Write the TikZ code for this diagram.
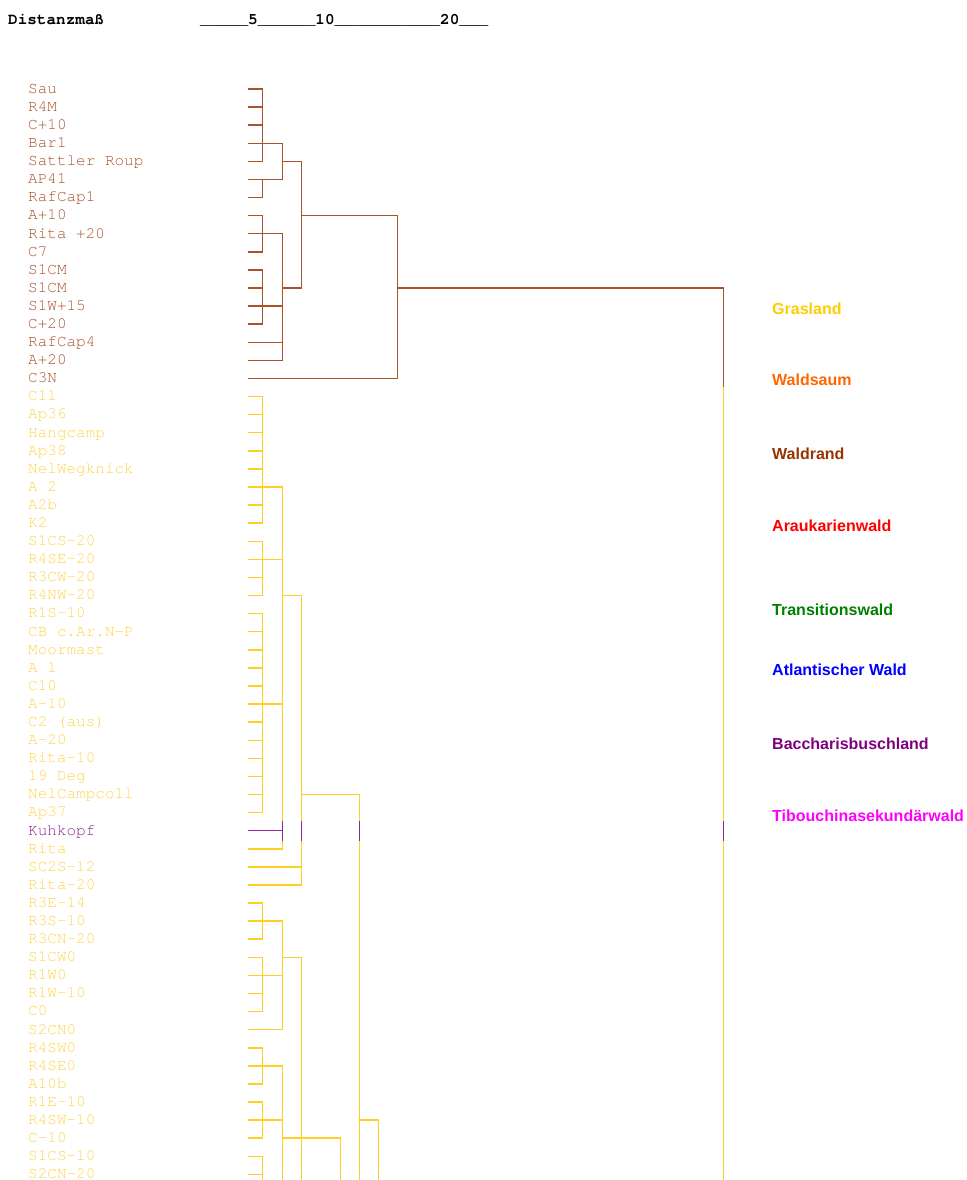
\documentclass[tikz,border=0pt]{standalone}
\usepackage{fontspec}
\newfontfamily\legendfont{Liberation Sans}
\newfontfamily\cursorfont{texgyrecursor-regular.otf}[BoldFont=texgyrecursor-bold.otf]
\definecolor{clbrown}{RGB}{170,82,42}
\definecolor{clgold}{RGB}{255,208,36}
\definecolor{clgoldtext}{RGB}{255,212,76}
\definecolor{clpurple}{RGB}{142,40,150}
\definecolor{lgGras}{RGB}{255,204,0}
\definecolor{lgSaum}{RGB}{255,102,0}
\definecolor{lgRand}{RGB}{153,51,0}
\definecolor{lgArau}{RGB}{255,0,0}
\definecolor{lgTrans}{RGB}{0,128,0}
\definecolor{lgAtl}{RGB}{0,0,255}
\definecolor{lgBacc}{RGB}{128,0,128}
\definecolor{lgTib}{RGB}{255,0,255}
\newcommand\leaffont{\fontsize{16}{18}\cursorfont}
\newcommand\headfont{\fontsize{16}{18}\cursorfont\bfseries}
\newcommand\keyfont{\fontsize{16}{18}\legendfont\bfseries}
\begin{document}
\begin{tikzpicture}[x=1pt,y=-18.09pt,
  brn/.style={draw=clbrown,line width=1.5pt,line cap=rect},
  gld/.style={draw=clgold,line width=1.5pt,line cap=rect},
  prp/.style={draw=clpurple,line width=1.5pt,line cap=rect},
  leaf/.style={anchor=base west,inner sep=0pt,yshift=-4.3pt,font=\leaffont},
  key/.style={anchor=west,inner sep=0pt,font=\keyfont}]
\useasboundingbox (0,-3.9199) rectangle (966,61.309);
\node[anchor=base west,inner sep=0pt,font=\headfont] (title) at (8,-2.593) {Distanzmaß};
\node[anchor=base west,inner sep=0pt,font=\headfont] (scale) at (200,-2.593) {\_\_\_\_\_5\_\_\_\_\_\_10\_\_\_\_\_\_\_\_\_\_\_20\_\_\_};
\node[leaf,clbrown] (leaf01) at (28,1) {Sau};
\node[leaf,clbrown] (leaf02) at (28,2) {R4M};
\node[leaf,clbrown] (leaf03) at (28,3) {C+10};
\node[leaf,clbrown] (leaf04) at (28,4) {Bar1};
\node[leaf,clbrown] (leaf05) at (28,5) {Sattler Roup};
\node[leaf,clbrown] (leaf06) at (28,6) {AP41};
\node[leaf,clbrown] (leaf07) at (28,7) {RafCap1};
\node[leaf,clbrown] (leaf08) at (28,8) {A+10};
\node[leaf,clbrown] (leaf09) at (28,9) {Rita +20};
\node[leaf,clbrown] (leaf10) at (28,10) {C7};
\node[leaf,clbrown] (leaf11) at (28,11) {S1CM};
\node[leaf,clbrown] (leaf12) at (28,12) {S1CM};
\node[leaf,clbrown] (leaf13) at (28,13) {S1W+15};
\node[leaf,clbrown] (leaf14) at (28,14) {C+20};
\node[leaf,clbrown] (leaf15) at (28,15) {RafCap4};
\node[leaf,clbrown] (leaf16) at (28,16) {A+20};
\node[leaf,clbrown] (leaf17) at (28,17) {C3N};
\node[leaf,clgoldtext] (leaf18) at (28,18) {C11};
\node[leaf,clgoldtext] (leaf19) at (28,19) {Ap36};
\node[leaf,clgoldtext] (leaf20) at (28,20) {Hangcamp};
\node[leaf,clgoldtext] (leaf21) at (28,21) {Ap38};
\node[leaf,clgoldtext] (leaf22) at (28,22) {NelWegknick};
\node[leaf,clgoldtext] (leaf23) at (28,23) {A 2};
\node[leaf,clgoldtext] (leaf24) at (28,24) {A2b};
\node[leaf,clgoldtext] (leaf25) at (28,25) {K2};
\node[leaf,clgoldtext] (leaf26) at (28,26) {S1CS-20};
\node[leaf,clgoldtext] (leaf27) at (28,27) {R4SE-20};
\node[leaf,clgoldtext] (leaf28) at (28,28) {R3CW-20};
\node[leaf,clgoldtext] (leaf29) at (28,29) {R4NW-20};
\node[leaf,clgoldtext] (leaf30) at (28,30) {R1S-10};
\node[leaf,clgoldtext] (leaf31) at (28,31) {CB c.Ar.N-P};
\node[leaf,clgoldtext] (leaf32) at (28,32) {Moormast};
\node[leaf,clgoldtext] (leaf33) at (28,33) {A 1};
\node[leaf,clgoldtext] (leaf34) at (28,34) {C10};
\node[leaf,clgoldtext] (leaf35) at (28,35) {A-10};
\node[leaf,clgoldtext] (leaf36) at (28,36) {C2 (aus)};
\node[leaf,clgoldtext] (leaf37) at (28,37) {A-20};
\node[leaf,clgoldtext] (leaf38) at (28,38) {Rita-10};
\node[leaf,clgoldtext] (leaf39) at (28,39) {19 Deg};
\node[leaf,clgoldtext] (leaf40) at (28,40) {NelCampcoll};
\node[leaf,clgoldtext] (leaf41) at (28,41) {Ap37};
\node[leaf,clpurple] (leaf42) at (28,42) {Kuhkopf};
\node[leaf,clgoldtext] (leaf43) at (28,43) {Rita};
\node[leaf,clgoldtext] (leaf44) at (28,44) {SC2S-12};
\node[leaf,clgoldtext] (leaf45) at (28,45) {Rita-20};
\node[leaf,clgoldtext] (leaf46) at (28,46) {R3E-14};
\node[leaf,clgoldtext] (leaf47) at (28,47) {R3S-10};
\node[leaf,clgoldtext] (leaf48) at (28,48) {R3CN-20};
\node[leaf,clgoldtext] (leaf49) at (28,49) {S1CW0};
\node[leaf,clgoldtext] (leaf50) at (28,50) {R1W0};
\node[leaf,clgoldtext] (leaf51) at (28,51) {R1W-10};
\node[leaf,clgoldtext] (leaf52) at (28,52) {C0};
\node[leaf,clgoldtext] (leaf53) at (28,53) {S2CN0};
\node[leaf,clgoldtext] (leaf54) at (28,54) {R4SW0};
\node[leaf,clgoldtext] (leaf55) at (28,55) {R4SE0};
\node[leaf,clgoldtext] (leaf56) at (28,56) {A10b};
\node[leaf,clgoldtext] (leaf57) at (28,57) {R1E-10};
\node[leaf,clgoldtext] (leaf58) at (28,58) {R4SW-10};
\node[leaf,clgoldtext] (leaf59) at (28,59) {C-10};
\node[leaf,clgoldtext] (leaf60) at (28,60) {S1CS-10};
\node[leaf,clgoldtext] (leaf61) at (28,61) {S2CN-20};
\draw[brn] (249,1) -- (262.5,1) (249,2) -- (262.5,2) (249,3) -- (262.5,3) (249,4) -- (282.5,4) (249,5) -- (262.5,5) (262.5,1) -- (262.5,5);
\draw[brn] (249,6) -- (282.5,6) (249,7) -- (262.5,7) (262.5,6) -- (262.5,7);
\draw[brn] (282.5,4) -- (282.5,6) (282.5,5) -- (301.5,5);
\draw[brn] (249,8) -- (262.5,8) (249,9) -- (282.5,9) (249,10) -- (262.5,10) (262.5,8) -- (262.5,10);
\draw[brn] (249,11) -- (262.5,11) (249,12) -- (262.5,12) (249,13) -- (282.5,13) (249,14) -- (262.5,14) (262.5,11) -- (262.5,14);
\draw[brn] (249,15) -- (282.5,15) (249,16) -- (282.5,16) (282.5,9) -- (282.5,16) (282.5,12) -- (301.5,12);
\draw[brn] (301.5,5) -- (301.5,12) (301.5,8) -- (397.5,8);
\draw[brn] (249,17) -- (397.5,17) (397.5,8) -- (397.5,17) (397.5,12) -- (723.5,12) -- (723.5,17.5);
\draw[gld] (249,18) -- (262.5,18) (249,19) -- (262.5,19) (249,20) -- (262.5,20) (249,21) -- (262.5,21) (249,22) -- (262.5,22) (249,23) -- (282.5,23) (249,24) -- (262.5,24) (249,25) -- (262.5,25) (262.5,18) -- (262.5,25);
\draw[gld] (249,26) -- (262.5,26) (249,27) -- (282.5,27) (249,28) -- (262.5,28) (249,29) -- (262.5,29) (262.5,26) -- (262.5,29);
\draw[gld] (249,30) -- (262.5,30) (249,31) -- (262.5,31) (249,32) -- (262.5,32) (249,33) -- (262.5,33) (249,34) -- (262.5,34) (249,35) -- (282.5,35) (249,36) -- (262.5,36) (249,37) -- (262.5,37) (249,38) -- (262.5,38) (249,39) -- (262.5,39) (249,40) -- (262.5,40) (249,41) -- (262.5,41) (262.5,30) -- (262.5,41);
\draw[gld] (249,43) -- (282.5,43) (282.5,23) -- (282.5,41.5) (282.5,42.5) -- (282.5,43) (282.5,29) -- (301.5,29);
\draw[gld] (249,44) -- (301.5,44) (249,45) -- (301.5,45) (301.5,29) -- (301.5,41.5) (301.5,42.5) -- (301.5,45) (301.5,40) -- (359.5,40);
\draw[gld] (359.5,40) -- (359.5,41.5) (359.5,42.5) -- (359.5,61.31) (359.5,58) -- (378.5,58) -- (378.5,61.31);
\draw[gld] (249,46) -- (262.5,46) (249,47) -- (282.5,47) (249,48) -- (262.5,48) (262.5,46) -- (262.5,48);
\draw[gld] (249,49) -- (262.5,49) (249,50) -- (282.5,50) (249,51) -- (262.5,51) (249,52) -- (262.5,52) (262.5,49) -- (262.5,52);
\draw[gld] (249,53) -- (282.5,53) (282.5,47) -- (282.5,53) (282.5,49) -- (301.5,49) -- (301.5,61.31);
\draw[gld] (249,54) -- (262.5,54) (249,55) -- (282.5,55) (249,56) -- (262.5,56) (262.5,54) -- (262.5,56);
\draw[gld] (249,57) -- (262.5,57) (249,58) -- (282.5,58) (249,59) -- (262.5,59) (262.5,57) -- (262.5,59);
\draw[gld] (282.5,55) -- (282.5,61.31) (282.5,59) -- (340.5,59) -- (340.5,61.31);
\draw[gld] (249,60) -- (262.5,60) (249,61) -- (262.5,61) (262.5,60) -- (262.5,61.31);
\draw[gld] (723.5,17.5) -- (723.5,41.5) (723.5,42.5) -- (723.5,61.31);
\draw[prp] (249,42) -- (282.5,42) (282.5,41.5) -- (282.5,42.5) (301.5,41.5) -- (301.5,42.5) (359.5,41.5) -- (359.5,42.5) (723.5,41.5) -- (723.5,42.5);
\node[key,lgGras] (grasland) at (772,13.161) {Grasland};
\node[key,lgSaum] (waldsaum) at (772,17.086) {Waldsaum};
\node[key,lgRand] (waldrand) at (772,21.177) {Waldrand};
\node[key,lgArau] (araukarien) at (772,25.157) {Araukarienwald};
\node[key,lgTrans] (transition) at (772,29.8) {Transitionswald};
\node[key,lgAtl] (atlantisch) at (772,33.117) {Atlantischer Wald};
\node[key,lgBacc] (baccharis) at (772,37.208) {Baccharisbuschland};
\node[key,lgTib] (tibouchina) at (772,41.188) {Tibouchinasekundärwald};
\end{tikzpicture}
\end{document}
